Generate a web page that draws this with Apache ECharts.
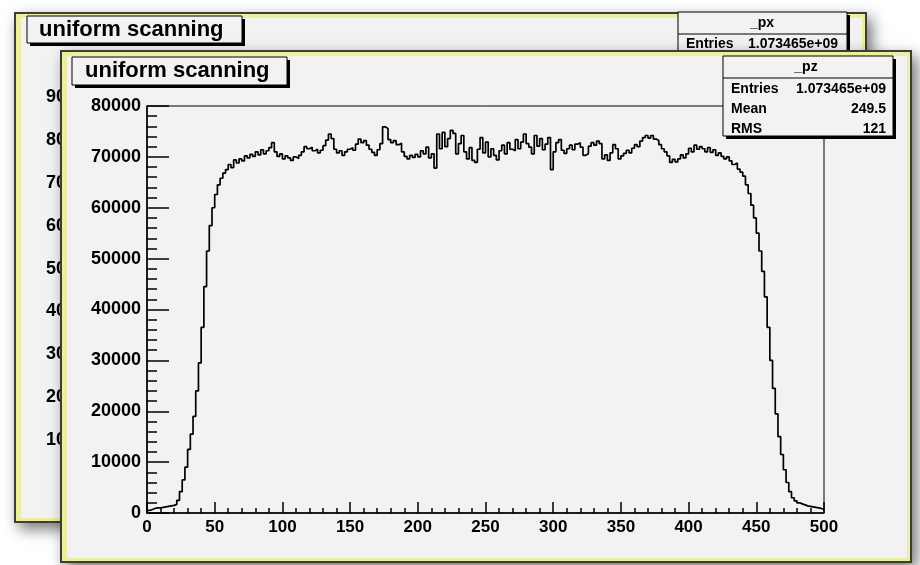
<!DOCTYPE html>
<html>
<head>
<meta charset="utf-8">
<title>uniform scanning</title>
<script src="https://cdn.jsdelivr.net/npm/echarts@6/dist/echarts.min.js"></script>
<style>
  html, body { margin: 0; padding: 0; background: #ffffff; }
  #main { width: 920px; height: 565px; }
</style>
</head>
<body>
<div id="main"></div>
<script>
  // histogram _pz : 250 bins of width 2 over [0, 500)
  var BIN_WIDTH = 2
  var counts = [
    500, 700, 900, 1000, 1000, 1100, 1200, 1300, 1400, 1500,
    1700, 2500, 4200, 6500, 9000, 12500, 15500, 19000, 24000, 29500,
    36500, 44500, 51500, 56500, 60000, 62600, 64500, 65800, 66800, 67500,
    68500, 67900, 69400, 68800, 69600, 69200, 70200, 69800, 70500, 70100,
    71000, 70400, 71400, 70600, 71200, 71800, 72800, 71000, 70100, 70600,
    69600, 70200, 69800, 69300, 70000, 69700, 70300, 71000, 72000, 71600,
    71900, 71200, 71500, 70800, 71300, 72200, 73300, 74500, 73600, 71500,
    70800, 71200, 70300, 71000, 71500, 71800, 71300, 72500, 73500, 72800,
    73200, 72300, 71500, 70900, 70300, 71400, 72600, 75900, 75600, 73400,
    72800, 73200, 72400, 72700, 71000, 70100, 69600, 70300, 69900, 70500,
    70000, 71200, 70600, 71900, 69800, 70600, 67800, 74500, 71600, 74800,
    72000, 73600, 75200, 74600, 70600, 72600, 74200, 71000, 69600, 71800,
    69300, 68900, 71500, 73800, 70800, 72900, 70000, 71600, 70300, 69400,
    71200, 72300, 70600, 72800, 71500, 71200, 73400, 71600, 72900, 74500,
    72600, 71900, 70600, 74200, 72100, 73600, 71400, 72500, 73800, 67500,
    71000, 72800, 73400, 71300, 70700, 71600, 72300, 71400, 72500, 72800,
    71900, 70300, 70600, 72100, 72800, 72300, 73100, 72600, 69600, 70400,
    69300, 70800, 72400, 71600, 69600, 70200, 70700, 71300, 70800, 71700,
    72400, 72000, 73100, 73800, 74200, 73700, 74200, 73500, 73200, 72400,
    71600, 71000, 70200, 68900, 69500, 69000, 69600, 70400, 69800, 70600,
    71700, 71000, 72300, 71500, 72000, 71600, 71000, 71800, 70900, 71400,
    70300, 70800, 70100, 69600, 70000, 69200, 68500, 68800, 67600, 67000,
    66200, 64500, 62800, 60500, 58000, 55000, 51500, 47500, 42500, 36500,
    30000, 24500, 19500, 15000, 11500, 8500, 6000, 4200, 3000, 2400,
    2000, 1800, 1600, 1400, 1300, 1200, 1100, 1000, 900, 700
  ]

  var titleText = 'uniform scanning'
  var frontName = '_pz'
  var backName = '_px'
  var statNames = ['Entries', 'Mean', 'RMS']
  var statValues = ['1.073465e+09', '249.5', '121']

  var FONT = '"Liberation Sans", Arial, Helvetica, sans-serif'
  var PAD_GRAY = '#f2f2f2'
  var PAD_YELLOW = '#eeeea0'

  var points = counts.map(function (v, i) { return [i * BIN_WIDTH, v] })
  points.push([counts.length * BIN_WIDTH, counts[counts.length - 1]])

  // ROOT style pad: dark edge, yellow bevel, gray inside
  function pad(x, y, w, h, z) {
    return [
      { type: 'rect', z: z, shape: { x: x, y: y, width: w, height: h },
        style: { fill: '#3d3d33', shadowBlur: 14, shadowColor: 'rgba(0,0,0,0.55)', shadowOffsetX: 5, shadowOffsetY: 6 } },
      { type: 'rect', z: z, shape: { x: x + 2, y: y + 2, width: w - 4, height: h - 4 },
        style: { fill: PAD_YELLOW } },
      { type: 'rect', z: z, shape: { x: x + 7, y: y + 6, width: w - 12, height: h - 11 },
        style: { fill: PAD_GRAY } }
    ]
  }

  function box(x, y, w, h, z) {
    return [
      { type: 'rect', z: z, shape: { x: x + 3, y: y + 3, width: w, height: h }, style: { fill: '#000' } },
      { type: 'rect', z: z, shape: { x: x, y: y, width: w, height: h }, style: { fill: PAD_GRAY, stroke: '#000', lineWidth: 1 } }
    ]
  }

  function text(str, x, y, size, align, z) {
    return { type: 'text', z: z, style: {
      text: str, x: x, y: y, font: 'bold ' + size + 'px ' + FONT, fill: '#000',
      align: align, textAlign: align, verticalAlign: 'middle', textVerticalAlign: 'middle'
    } }
  }

  var g = []
  // back canvas
  g = g.concat(pad(14, 12, 853, 511, 0))
  g = g.concat(box(27, 16, 215, 27, 1))
  g.push(text(titleText, 39, 30, 22, 'left', 1))
  g = g.concat(box(678, 12, 169, 60, 1))
  g.push(text(backName, 762, 23, 14, 'center', 1))
  g.push({ type: 'line', z: 1, shape: { x1: 678, y1: 34, x2: 847, y2: 34 }, style: { stroke: '#000', lineWidth: 1 } })
  g.push(text(statNames[0], 686, 44, 14, 'left', 1))
  g.push(text(statValues[0], 838, 44, 14, 'right', 1))

  // front canvas
  g = g.concat(pad(60, 50, 852, 513, 5))
  g = g.concat(box(72, 57, 215, 28, 20))
  g.push(text(titleText, 85, 71, 22, 'left', 20))
  g = g.concat(box(723, 56, 170, 80, 20))
  g.push(text(frontName, 806, 67, 14, 'center', 20))
  g.push({ type: 'line', z: 20, shape: { x1: 723, y1: 78, x2: 893, y2: 78 }, style: { stroke: '#000', lineWidth: 1 } })
  statNames.forEach(function (n, i) {
    g.push(text(n, 731, 89 + i * 20, 14, 'left', 20))
    g.push(text(statValues[i], 886, 89 + i * 20, 14, 'right', 20))
  })

  var labelStyle = { color: '#000', fontWeight: 'bold', fontFamily: FONT,
    formatter: function (v) { return String(v) } }

  var chart = echarts.init(document.getElementById('main'))
  chart.setOption({
    animation: false,
    backgroundColor: '#ffffff',
    graphic: { elements: g },
    grid: [
      { left: 147, right: 96, top: 106, bottom: 52, show: true, z: 8,
        borderColor: '#000', borderWidth: 1, backgroundColor: 'transparent' },
      { left: 104, right: 120, top: 97, bottom: 82, show: false, z: 2 }
    ],
    xAxis: [
      { type: 'value', gridIndex: 0, min: 0, max: 500, interval: 50, z: 9,
        axisLine: { show: true, lineStyle: { color: '#000', width: 1.5 } },
        axisTick: { show: true, inside: true, length: 11, lineStyle: { color: '#000', width: 1.5 } },
        minorTick: { show: true, splitNumber: 5, length: 5, lineStyle: { color: '#000', width: 1.5 } },
        splitLine: { show: false },
        axisLabel: Object.assign({ fontSize: 17, margin: 6 }, labelStyle) },
      { type: 'value', gridIndex: 1, min: 0, max: 500, show: false }
    ],
    yAxis: [
      { type: 'value', gridIndex: 0, min: 0, max: 80000, interval: 10000, z: 9,
        axisLine: { show: true, lineStyle: { color: '#000', width: 1.5 } },
        axisTick: { show: true, inside: true, length: 22, lineStyle: { color: '#000', width: 1.5 } },
        minorTick: { show: true, splitNumber: 5, length: 10, lineStyle: { color: '#000', width: 1.5 } },
        splitLine: { show: false },
        axisLabel: Object.assign({ fontSize: 18, margin: 6 }, labelStyle) },
      { type: 'value', gridIndex: 1, min: 0, max: 90000, interval: 10000, z: 2,
        axisLine: { show: false }, axisTick: { show: false }, splitLine: { show: false },
        axisLabel: Object.assign({ fontSize: 18, margin: 8 }, labelStyle) }
    ],
    series: [{
      name: frontName,
      type: 'line',
      xAxisIndex: 0,
      yAxisIndex: 0,
      step: 'end',
      symbol: 'none',
      z: 10,
      data: points,
      lineStyle: { color: '#000', width: 1.7 }
    }]
  })
</script>
</body>
</html>
